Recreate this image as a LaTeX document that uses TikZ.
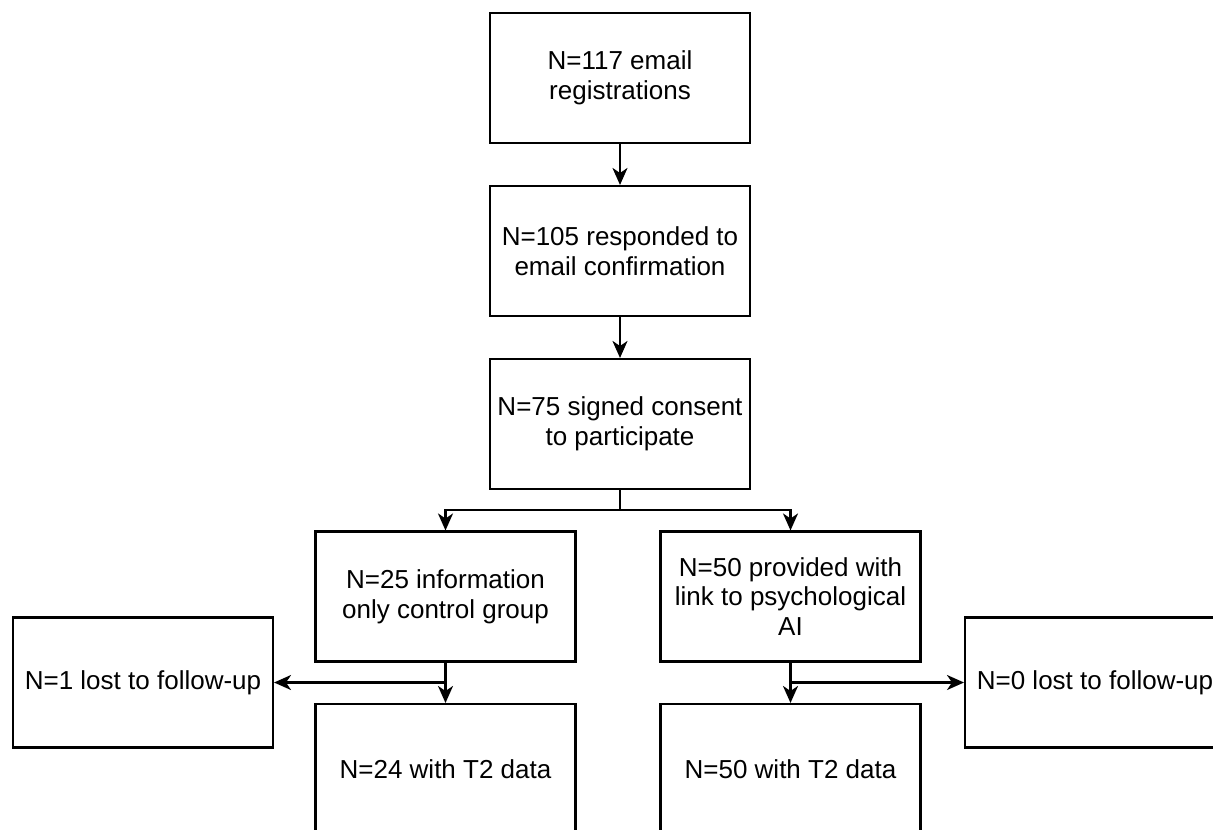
\documentclass[tikz,border=0pt]{standalone}
\usepackage{fontspec}
\setmainfont{Liberation Sans}
\usetikzlibrary{arrows.meta}

\begin{document}
\begin{tikzpicture}[x=0.02cm,y=-0.02cm,
  box/.style={draw,line width=1.2pt,minimum width=5.2cm,minimum height=2.6cm,
    inner sep=0pt,align=center,font=\fontsize{14.8}{17}\selectfont},
  flow/.style={line width=1.2pt,-{Stealth[length=0.34cm,width=0.3cm,inset=0.1cm]}}]

\useasboundingbox (0,0) rectangle (1213,829);

% main column
\node[box] (reg)     at (620,78)  {N=117 email\\registrations};
\node[box] (resp)    at (620,251) {N=105 responded to\\email confirmation};
\node[box] (consent) at (620,424) {N=75 signed consent\\to participate};

% two arms
\node[box] (info) at (445.5,596.5) {N=25 information\\only control group};
\node[box] (ai)   at (790.5,596.5) {N=50 provided with\\link to psychological\\AI};

\node[box] (lostL) at (143,682.5)  {N=1 lost to follow-up};
\node[box] (lostR) at (1095,682.5) {N=0 lost to follow-up};

\node[box] (dataL) at (445.5,769) {N=24 with T2 data};
\node[box] (dataR) at (790.5,769) {N=50 with T2 data};

\draw[flow] (reg) -- (resp);
\draw[flow] (resp) -- (consent);

\draw[line width=1.2pt] (consent.south) -- ++(0,20) coordinate (split);
\draw[flow] (split) -| (info.north);
\draw[flow] (split) -| (ai.north);

\draw[flow] (info) -- (dataL);
\draw[flow] (info.south |- lostL.east) -- (lostL.east);
\draw[flow] (ai) -- (dataR);
\draw[flow] (ai.south |- lostR.west) -- (lostR.west);

\end{tikzpicture}
\end{document}
